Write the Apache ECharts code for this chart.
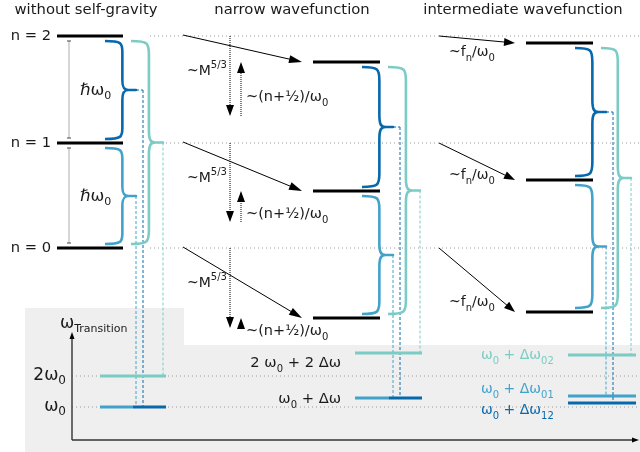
<!DOCTYPE html>
<html><head><meta charset="utf-8">
<script src="https://cdn.jsdelivr.net/npm/echarts@6/dist/echarts.min.js"></script>
<style>html,body{margin:0;padding:0;background:#fff}#c{width:640px;height:452px}</style>
</head><body><div id="c"></div>
<script>
// ================= DATA =================
const columnTitles = ['without self-gravity', 'narrow wavefunction', 'intermediate wavefunction'];
const levelLabels = ['n = 0', 'n = 1', 'n = 2'];
// level energies in diagram units (value grows downward)
const levelsFree = [248, 143, 36];
const levelsNarrow = [318, 191, 62];
const levelsInter = [312, 180, 43];
// narrow case: position after the ~M^5/3 shift (before the (n+1/2)/w0 correction)
const levelsShifted = [328, 222, 116];
// transitions: [lower n, upper n] -> light (0-1), dark (1-2), teal (0-2)
const transitions = [[0, 1], [1, 2], [0, 2]];
// transition frequencies (diagram units)
const transFree = [407, 407, 376];
const transNarrow = [398, 398, 353];
const transInter = [396, 403, 355];
const transAxisTicks = ['ω0', '2ω0'];
const transAxisTickVals = [407, 376];

// ================= LAYOUT / STYLE =================
const F = 'DejaVu Sans';
const INK = '#000';
const TXT = '#1a1a1a';
const CL = ['#43a2ca', '#0868ac', '#7bccc4'];
const cols = [
  { levels: levelsFree, span: [57, 123], bar: [100, 166], trans: transFree, split: true, tealOut: 40 },
  { levels: levelsNarrow, span: [313, 380], bar: [355, 422], trans: transNarrow, split: true, tealOut: 40 },
  { levels: levelsInter, span: [526, 593], bar: [568, 636], trans: transInter, split: false, tealOut: 38 }
];
const titleX = [86, 292, 523];
const arrowNarrowX = [183, 302];
const arrowInterX = [439, 515];
const fnLabelY = [302, 175, 52];

const chart = echarts.init(document.getElementById('c'), null, { renderer: 'canvas' });

function C(api, x, y) { return api.coord([x, y]); }
function ln(api, x1, y1, x2, y2, style) {
  const a = C(api, x1, y1), b = C(api, x2, y2);
  return { type: 'line', shape: { x1: a[0], y1: a[1], x2: b[0], y2: b[1] }, style: style };
}
function arrow(api, x1, y1, x2, y2, len, wid, style) {
  const a = C(api, x1, y1), b = C(api, x2, y2);
  const dx = b[0] - a[0], dy = b[1] - a[1], L = Math.hypot(dx, dy), ux = dx / L, uy = dy / L;
  const bx = b[0] - ux * len, by = b[1] - uy * len;
  return [
    { type: 'line', shape: { x1: a[0], y1: a[1], x2: bx + ux * 1, y2: by + uy * 1 }, style: style },
    { type: 'polygon', shape: { points: [[b[0], b[1]], [bx - uy * wid / 2, by + ux * wid / 2], [bx + uy * wid / 2, by - ux * wid / 2]] }, style: { fill: INK } }
  ];
}
function brace(api, x0, x1, yT, yB, color) {
  const a = C(api, x0, yT), c = C(api, x0, yB), b = C(api, x1, (yT + yB) / 2);
  const X0 = a[0], X1 = b[0], YT = a[1], YB = c[1], YM = b[1];
  const xs = X0 + 0.56 * (X1 - X0);
  const h = (YM - YT);
  const r = Math.min(0.22 * h, 14), q = Math.min(0.2 * h, 12);
  const xt = xs + 0.45 * (X1 - xs);
  const d = `M${X0},${YT} C${xs - 1},${YT} ${xs},${YT + 2} ${xs},${YT + r}` +
    ` C${xs},${YT + 0.5 * h} ${xs},${YM - 2 * q} ${xs},${YM - q}` +
    ` C${xs},${YM - 2} ${xs + 2},${YM} ${xt},${YM} L${X1},${YM} L${xt},${YM}` +
    ` C${xs + 2},${YM} ${xs},${YM + 2} ${xs},${YM + q}` +
    ` C${xs},${YM + 2 * q} ${xs},${YB - 0.5 * h} ${xs},${YB - r}` +
    ` C${xs},${YB - 2} ${xs - 1},${YB} ${X0},${YB}`;
  return { type: 'path', shape: { pathData: d }, style: { stroke: color, lineWidth: 2.6, fill: null, lineJoin: 'round' } };
}
function txt(api, x, y, text, opt) {
  const p = C(api, x, y);
  return {
    type: 'text', x: p[0], y: p[1],
    style: Object.assign({ text: text, fill: TXT, fontSize: 13, fontFamily: F, align: 'left', verticalAlign: 'middle' }, opt || {})
  };
}
function rich(size, color) {
  return {
    m: { fontSize: size, fontFamily: F, fill: color, lineHeight: 22, verticalAlign: 'middle' },
    s: { fontSize: Math.round(size * 0.68), fontFamily: F, fill: color, lineHeight: 10, verticalAlign: 'bottom' },
    p: { fontSize: Math.round(size * 0.68), fontFamily: F, fill: color, lineHeight: 10, verticalAlign: 'top' }
  };
}
function cs(name, data, render, z) {
  return { type: 'custom', name: name, coordinateSystem: 'cartesian2d', data: data, z: z, silent: true, animation: false, clip: false,
    renderItem: function (params, api) { return render(params.dataIndex, api); } };
}
const idx = n => Array.from({ length: n }, (_, i) => [i]);

const series = [];
// gray background (transition-frequency panel)
series.push(cs('panel', [[0]], function (i, api) {
  const pts = [[25, 308], [184, 308], [184, 345], [640, 345], [640, 452], [25, 452]].map(p => C(api, p[0], p[1]));
  return { type: 'polygon', shape: { points: pts }, style: { fill: '#efefef' } };
}, 0));
// dotted reference lines
series.push(cs('refTop', idx(levelsFree.length), function (i, api) {
  return ln(api, 150, levelsFree[i], 640, levelsFree[i], { stroke: '#9a9a9a', lineWidth: 1, lineDash: [1, 3] });
}, 1));
series.push(cs('refBottom', idx(transAxisTickVals.length), function (i, api) {
  return ln(api, 72, transAxisTickVals[i], 640, transAxisTickVals[i], { stroke: '#9a9a9a', lineWidth: 1, lineDash: [1, 3] });
}, 1));
// axes
series.push(cs('axes', [[0]], function (i, api) {
  const st = { stroke: '#333', lineWidth: 1.4 };
  return { type: 'group', children: [].concat(
    arrow(api, 72, 440, 72, 332, 7, 5, st),
    arrow(api, 72, 440, 639, 440, 7, 5, st)
  ) };
}, 3));
// hbar omega0 measurement
series.push(cs('hbar', idx(2), function (i, api) {
  const y1 = levelsFree[i] - 5, y2 = levelsFree[i + 1] + 5;
  return { type: 'group', children: [
    ln(api, 69, y1, 69, y2, { stroke: '#c8c8c8', lineWidth: 1.5 }),
    ln(api, 67, y1, 71, y1, { stroke: '#444', lineWidth: 1 }),
    ln(api, 67, y2, 71, y2, { stroke: '#444', lineWidth: 1 }),
    txt(api, 80, (y1 + y2) / 2 + 1, '{m|ℏω}{s|0}', { rich: rich(16.5, TXT) })
  ] };
}, 4));
// energy levels + labels
series.push(cs('levels', idx(9), function (i, api) {
  const c = cols[Math.floor(i / 3)], k = i % 3;
  const ch = [ln(api, c.span[0], c.levels[k], c.span[1], c.levels[k], { stroke: INK, lineWidth: 3 })];
  if (i < 3) ch.push(txt(api, 51, levelsFree[k], levelLabels[k], { align: 'right', fontSize: 14.7 }));
  return { type: 'group', children: ch };
}, 5));
// titles
series.push(cs('titles', idx(3), function (i, api) {
  return txt(api, titleX[i], 10, columnTitles[i], { align: 'center', fontSize: 14.8 });
}, 5));
// shift arrows into narrow & intermediate levels
series.push(cs('shiftArrows', idx(6), function (i, api) {
  const k = i % 3;
  const st = { stroke: INK, lineWidth: 1 };
  if (i < 3) {
    return { type: 'group', children: arrow(api, arrowNarrowX[0], levelsFree[k] - 1, arrowNarrowX[1], levelsNarrow[k], 13, 8, st).concat([
      txt(api, 187, levelsFree[k] + 35, '{m|~M}{p|5/3}', { rich: rich(14, TXT) })
    ]) };
  }
  return { type: 'group', children: arrow(api, arrowInterX[0], levelsFree[k], arrowInterX[1], levelsInter[k], 11, 8, st).concat([
    txt(api, 449, fnLabelY[k], '{m|~f}{s|n}{m|/ω}{s|0}', { rich: rich(14, TXT) })
  ]) };
}, 6));
// narrow: vertical dotted arrows (M^5/3 down, (n+1/2)/w0 up)
series.push(cs('narrowDots', idx(3), function (i, api) {
  const st = { stroke: INK, lineWidth: 1, lineDash: [1, 1] };
  return { type: 'group', children: [].concat(
    arrow(api, 230, levelsFree[i], 230, levelsShifted[i], 11, 8, st),
    arrow(api, 241, levelsShifted[i], 241, levelsNarrow[i], 11, 8, st),
    [txt(api, 246, (levelsShifted[i] + levelsNarrow[i]) / 2 + 8, '{m|~(n+½)/ω}{s|0}', { rich: rich(14.5, TXT) })]
  ) };
}, 6));
// braces + dashed connectors + transition bars
series.push(cs('transitions', idx(9), function (i, api) {
  const c = cols[Math.floor(i / 3)], t = i % 3;
  const lo = transitions[t][0], hi = transitions[t][1];
  const yT = c.levels[hi] + 5, yB = c.levels[lo] - 4, yM = (yT + yB) / 2;
  const end = c.span[1];
  const x0 = t === 2 ? end + 8 : end - 18;
  const x1 = t === 2 ? end + c.tealOut : end + 13;
  const xd = t === 1 ? x1 + 7 : x1;
  const ds = { stroke: CL[t], lineWidth: 1, lineDash: [3, 2] };
  const ch = [brace(api, x0, x1, yT, yB, CL[t])];
  if (t === 1) ch.push(ln(api, x1, yM, xd, yM, ds));
  ch.push(ln(api, xd, yM, xd, c.trans[t], ds));
  let bx0 = c.bar[0], bx1 = c.bar[1];
  if (c.split && t < 2) {
    const mid = (c.bar[0] + c.bar[1]) / 2;
    if (t === 0) bx1 = mid; else bx0 = mid;
  }
  ch.push(ln(api, bx0, c.trans[t], bx1, c.trans[t], { stroke: CL[t], lineWidth: 3 }));
  return { type: 'group', children: ch };
}, 7));
// transition labels
series.push(cs('transLabels', [[0]], function (i, api) {
  return { type: 'group', children: [
    txt(api, 60, 324, '{m|ω}{s|Transition}', { rich: { m: { fontSize: 17, fontFamily: F, fill: TXT, lineHeight: 22, verticalAlign: 'middle' }, s: { fontSize: 11, fontFamily: F, fill: TXT, lineHeight: 12, verticalAlign: 'bottom' } } }),
    txt(api, 66, transAxisTickVals[1], '{m|2ω}{s|0}', { align: 'right', rich: rich(17, TXT) }),
    txt(api, 66, transAxisTickVals[0], '{m|ω}{s|0}', { align: 'right', rich: rich(17, TXT) }),
    txt(api, 341, transNarrow[2] + 10, '{m|2 ω}{s|0}{m| + 2 Δω}', { align: 'right', rich: rich(14.7, TXT) }),
    txt(api, 341, transNarrow[0] + 1, '{m|ω}{s|0}{m| + Δω}', { align: 'right', rich: rich(14.7, TXT) }),
    txt(api, 481, transInter[2], '{m|ω}{s|0}{m| + Δω}{s|02}', { rich: rich(14, CL[2]) }),
    txt(api, 481, transInter[0] - 7, '{m|ω}{s|0}{m| + Δω}{s|01}', { rich: rich(14, CL[0]) }),
    txt(api, 481, transInter[1] + 7, '{m|ω}{s|0}{m| + Δω}{s|12}', { rich: rich(14, CL[1]) })
  ] };
}, 8));

chart.setOption({
  animation: false,
  grid: { left: 0, right: 0, top: 0, bottom: 0 },
  xAxis: { type: 'value', min: 0, max: 640, show: false },
  yAxis: { type: 'value', min: 0, max: 452, inverse: true, show: false },
  series: series
});
</script></body></html>
